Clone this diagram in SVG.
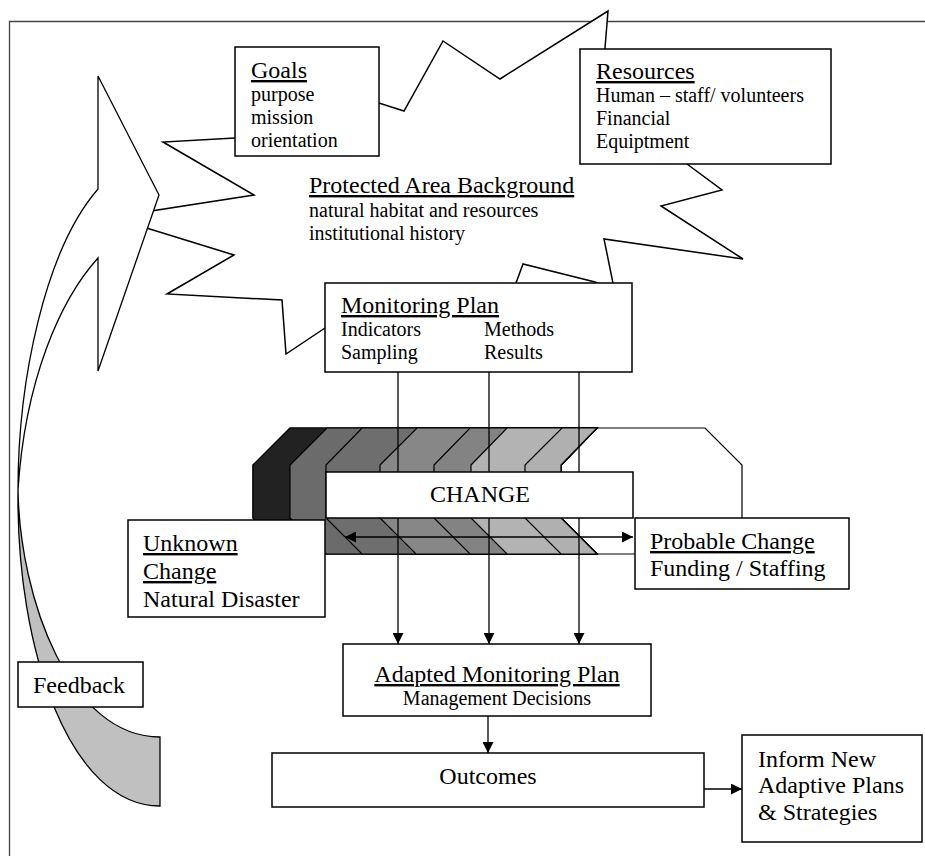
<svg xmlns="http://www.w3.org/2000/svg" width="925" height="856" viewBox="0 0 925 856">
<style>
text{font-family:"Liberation Serif","Times New Roman",serif;fill:#000}
.h{font-size:24px}
.s{font-size:20px}
.u{text-decoration:underline}
.box{fill:#fff;stroke:#000;stroke-width:1.5}
.ln{fill:none;stroke:#000;stroke-width:1.3}
.band{stroke:#000;stroke-width:1.2}
</style>
<defs>
<marker id="ah" viewBox="0 0 10 10" refX="10" refY="5" markerWidth="11" markerHeight="11" markerUnits="userSpaceOnUse" orient="auto-start-reverse">
<path d="M0,0 L10,5 L0,10 Z" fill="#000"/>
</marker>
</defs>
<g id="frame" fill="none" stroke="#444" stroke-width="1.3">
<path d="M9.5,856 L9.5,21.5 L925,21.5"/>
</g>
<g id="background">
<polygon points="370,105 379,103 404,111 443,41 500,79 608,11 605,48 604,56 682,160 687,164 722,190 661,206 743,259 604,239 613,283 614,292 606,287 595,282 523,264 516,283 514,290 330,330 325,328 286,354 282,300 167,294 234,255 140,226 145,212 254,195 163,142 235,138 240,138" fill="#fff" stroke="#000" stroke-width="1.5" stroke-linejoin="miter"/>
<text class="h u" x="309" y="193">Protected Area Background</text>
<text class="s" x="309" y="217">natural habitat and resources</text>
<text class="s" x="309" y="240">institutional history</text>
</g>
<g id="feedback-arrow" stroke="#000" stroke-width="1.3">
<path d="M18,490 C20,600 70,737 160,737 L160,806 C70,806 16,650 18,490 Z" fill="#c0c0c0"/>
<path d="M98,189 L98,76 L159,195 L98,371 L98,258 C60,300 25,380 18,490 C18,380 45,250 98,189 Z" fill="#fff"/>
</g>
<g id="change-band">
<polygon class="band" fill="#fff" points="253,465 290,428 705,428 742,465 742,518 706,554 289,554 253,518"/>
<polygon class="band" fill="#222" points="253,465 290,428 597,428 561,465 561,518 597,554 289,554 253,518"/>
<polygon class="band" fill="#6b6b6b" points="290,465 327,428 597,428 561,465 561,518 597,554 326,554 290,518"/>
<polygon class="band" fill="#6e6e6e" points="326,465 362,428 597,428 561,465 561,518 597,554 362,554 326,518"/>
<polygon class="band" fill="#878787" points="380,465 417,428 597,428 561,465 561,518 597,554 416,554 380,518"/>
<polygon class="band" fill="#838383" points="434,465 470,428 597,428 561,465 561,518 597,554 470,554 434,518"/>
<polygon class="band" fill="#b3b3b3" points="471,465 507,428 597,428 561,465 561,518 597,554 507,554 471,518"/>
<polygon class="band" fill="#b0b0b0" points="525,465 562,428 597,428 561,465 561,518 597,554 561,554 525,518"/>
</g>
<g id="connectors" class="ln">
<line x1="398" y1="372" x2="398" y2="644" marker-end="url(#ah)"/>
<line x1="489" y1="372" x2="489" y2="644" marker-end="url(#ah)"/>
<line x1="579" y1="372" x2="579" y2="644" marker-end="url(#ah)"/>
<line x1="345" y1="537" x2="633" y2="537" marker-start="url(#ah)" marker-end="url(#ah)"/>
<line x1="488" y1="716" x2="488" y2="753" marker-end="url(#ah)"/>
<line x1="704" y1="789" x2="742" y2="789" marker-end="url(#ah)"/>
</g>
<g id="change">
<rect class="box" x="326" y="472" width="307" height="46"/>
<text class="h" x="480" y="502" text-anchor="middle">CHANGE</text>
</g>
<g id="goals">
<rect class="box" x="235" y="47" width="144" height="109"/>
<text class="h u" x="251" y="78">Goals</text>
<text class="s" x="251" y="101">purpose</text>
<text class="s" x="251" y="124">mission</text>
<text class="s" x="251" y="147">orientation</text>
</g>
<g id="resources">
<rect class="box" x="580" y="49" width="251" height="115"/>
<text class="h u" x="596" y="79">Resources</text>
<text class="s" x="596" y="102">Human – staff/ volunteers</text>
<text class="s" x="596" y="125">Financial</text>
<text class="s" x="596" y="148">Equiptment</text>
</g>
<g id="monitoring-plan">
<rect class="box" x="325" y="283" width="307" height="89"/>
<text class="h u" x="341" y="313">Monitoring Plan</text>
<text class="s" x="341" y="336">Indicators</text>
<text class="s" x="341" y="359">Sampling</text>
<text class="s" x="484" y="336">Methods</text>
<text class="s" x="484" y="359">Results</text>
</g>
<g id="unknown-change">
<rect class="box" x="128" y="520" width="197" height="97"/>
<text class="h u" x="143" y="551">Unknown</text>
<text class="h u" x="143" y="579">Change</text>
<text class="h" x="143" y="607">Natural Disaster</text>
</g>
<g id="probable-change">
<rect class="box" x="635" y="518" width="214" height="71"/>
<text class="h u" x="650" y="549">Probable Change</text>
<text class="h" x="650" y="576">Funding / Staffing</text>
</g>
<g id="adapted-plan">
<rect class="box" x="343" y="644" width="308" height="72"/>
<text class="h u" x="497" y="682" text-anchor="middle">Adapted Monitoring Plan</text>
<text class="s" x="497" y="705" text-anchor="middle">Management Decisions</text>
</g>
<g id="outcomes">
<rect class="box" x="272" y="753" width="432" height="54"/>
<text class="h" x="488" y="784" text-anchor="middle">Outcomes</text>
</g>
<g id="inform">
<rect class="box" x="742" y="735" width="180" height="107"/>
<text class="h" x="758" y="767">Inform New</text>
<text class="h" x="758" y="793">Adaptive Plans</text>
<text class="h" x="758" y="820">&amp; Strategies</text>
</g>
<g id="feedback">
<rect class="box" x="18" y="662" width="125" height="45"/>
<text class="h" x="33" y="693">Feedback</text>
</g>
</svg>
